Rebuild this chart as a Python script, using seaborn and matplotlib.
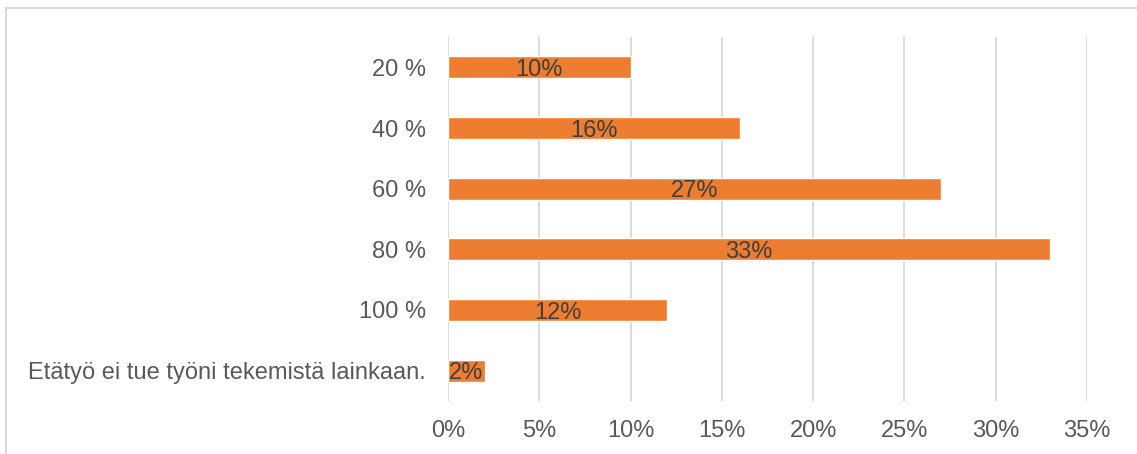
import matplotlib
matplotlib.use("Agg")
import matplotlib.pyplot as plt
import matplotlib.patches as patches
import pandas as pd
import seaborn as sns

# Chart data
categories = ["20 %", "40 %", "60 %", "80 %", "100 %",
              "Etätyö ei tue työni tekemistä lainkaan."]
shares = [10, 16, 27, 33, 12, 2]
x_ticks = [0, 5, 10, 15, 20, 25, 30, 35]
x_tick_labels = ["0%", "5%", "10%", "15%", "20%", "25%", "30%", "35%"]

bar_color = "#ED7D31"
text_color = "#595959"
grid_color = "#D9D9D9"

df = pd.DataFrame({"Vastaus": categories, "Osuus": shares})

sns.set_style("white")
plt.rcParams["font.family"] = ["Liberation Sans", "DejaVu Sans"]

fig = plt.figure(figsize=(11.37, 4.54), dpi=100)
ax = fig.add_axes([448 / 1137, 1 - 401 / 454, (1087 - 448) / 1137, (401 - 37) / 454])

sns.barplot(data=df, x="Osuus", y="Vastaus", orient="h", color=bar_color,
            saturation=1, width=0.36, ax=ax, zorder=3)

# Value labels in the middle of each bar
texts = ax.bar_label(ax.containers[0], labels=[f"{v}%" for v in shares],
                     label_type="center", fontsize=17, color="#404040")
for t in texts:
    t.set_y(t.get_position()[1] - 2)

ax.set_xlim(0, 35)
ax.set_xticks(x_ticks)
ax.set_xticklabels(x_tick_labels)
ax.set_xlabel("")
ax.set_ylabel("")

ax.grid(axis="x", color=grid_color, linewidth=1.3, zorder=0)
ax.grid(axis="y", visible=False)
for s in ax.spines.values():
    s.set_visible(False)

ax.tick_params(axis="x", length=0, pad=14, labelsize=17, labelcolor=text_color)
ax.tick_params(axis="y", length=0, pad=16, labelsize=17, labelcolor=text_color)

# Chart area frame
frame = patches.Rectangle((6 / 1137, -0.1), 1.2, 1 - 8 / 454 + 0.1,
                          transform=fig.transFigure, fill=False,
                          edgecolor=grid_color, linewidth=1.5)
fig.patches.append(frame)

fig.savefig("out.png", dpi=100)
